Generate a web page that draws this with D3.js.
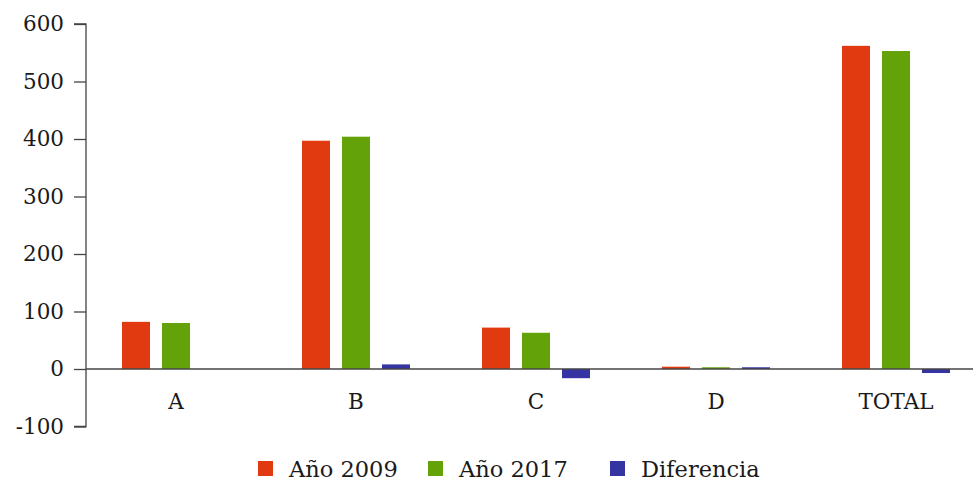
<!DOCTYPE html>
<html>
<head>
<meta charset="utf-8">
<script src="https://cdn.jsdelivr.net/npm/d3@7"></script>
<style>
  body { margin: 0; background: #fff; }
  svg { display: block; font-family: "DejaVu Serif", serif; }
</style>
</head>
<body>
<svg id="chart"></svg>
<script>
// categories and values
const categories = ["A", "B", "C", "D", "TOTAL"];
const seriesNames = ["Año 2009", "Año 2017", "Diferencia"];
const year2009 = [82, 397, 72, 4, 562];
const year2017 = [80, 404, 63, 3, 553];
const diferencia = [0, 8, -16, 3, -7];
const yTicks = [-100, 0, 100, 200, 300, 400, 500, 600];
const colors = ["#e23a10", "#64a20a", "#3434a2"];

const width = 973, height = 480;
const margin = { top: 24, left: 86 };

const svg = d3.select('#chart')
    .attr('width', width)
    .attr('height', height);

// build rows for the grouped bars
const series = [year2009, year2017, diferencia];
const rows = categories.map((c, i) => ({
    cat: c,
    values: series.map((s, j) => ({ key: seriesNames[j], value: s[i], color: colors[j] }))
}));

const x0 = d3.scaleBand()
    .domain(categories)
    .range([margin.left, margin.left + 900]);

const x1 = d3.scaleBand()
    .domain(seriesNames)
    .range([36, 144])
    .paddingInner(0.3);

const y = d3.scaleLinear()
    .domain([-100, 600])
    .range([426.5, margin.top]);

// y axis (plain hyphen for the minus, like the original)
const yAxis = svg.append('g')
    .attr('transform', `translate(${margin.left},0)`)
    .call(d3.axisLeft(y).tickValues(yTicks).tickSize(12).tickPadding(10).tickFormat(d => String(d)));
yAxis.select('.domain').attr('stroke', '#444').attr('stroke-width', 1.3)
    .attr('d', `M-12,${y(600)}H0V${y(-100)}H-12`);
yAxis.selectAll('.tick line').attr('stroke', '#444').attr('stroke-width', 1.3);
yAxis.selectAll('.tick text')
    .attr('fill', '#1a1a1a')
    .style('font-size', '21.5px')
    .style('font-family', '"DejaVu Serif", serif');

// bars
const groups = svg.append('g').selectAll('g')
    .data(rows)
    .join('g')
    .attr('transform', d => `translate(${x0(d.cat)},0)`);

groups.selectAll('rect')
    .data(d => d.values)
    .join('rect')
    .attr('x', d => x1(d.key))
    .attr('width', x1.bandwidth())
    .attr('y', d => y(Math.max(0, d.value)))
    .attr('height', d => Math.abs(y(d.value) - y(0)))
    .attr('fill', d => d.color);

// zero line
svg.append('line')
    .attr('x1', margin.left).attr('x2', width)
    .attr('y1', y(0)).attr('y2', y(0))
    .attr('stroke', '#444').attr('stroke-width', 1.3);

// category labels
svg.append('g').selectAll('text')
    .data(categories)
    .join('text')
    .attr('x', d => x0(d) + x0.bandwidth() / 2)
    .attr('y', 409)
    .attr('text-anchor', 'middle')
    .attr('fill', '#1a1a1a')
    .style('font-size', '21.5px')
    .text(d => d);

// legend
const legendX = [258, 428, 610];
const legend = svg.append('g').selectAll('g')
    .data(seriesNames)
    .join('g')
    .attr('transform', (d, i) => `translate(${legendX[i]},461)`);

legend.append('rect')
    .attr('width', 15).attr('height', 15)
    .attr('fill', (d, i) => colors[i]);

legend.append('text')
    .attr('x', 31).attr('y', 15.5)
    .attr('fill', '#1a1a1a')
    .style('font-size', '22.5px')
    .text(d => d);
</script>
</body>
</html>
